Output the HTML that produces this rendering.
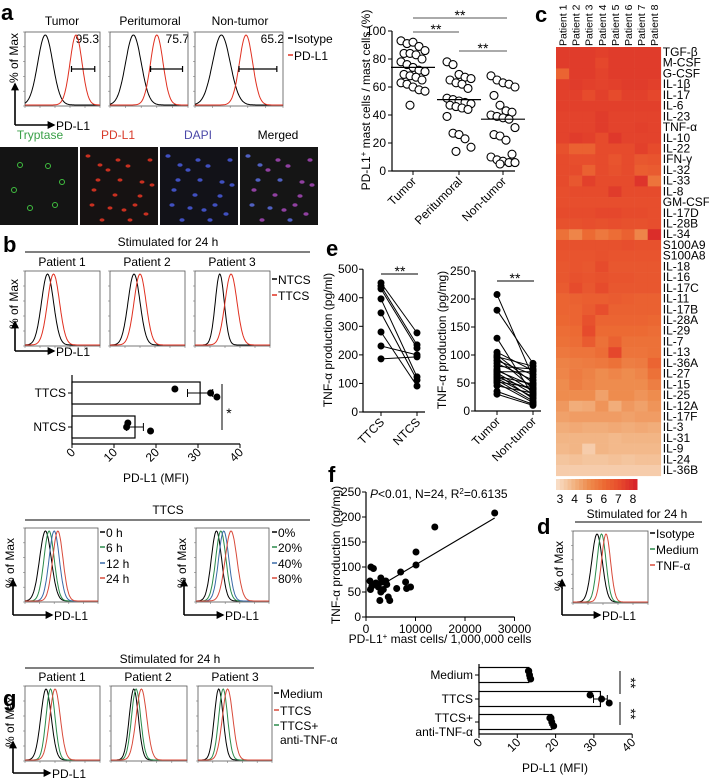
<!DOCTYPE html>
<html><head><meta charset="utf-8"><style>
html,body{margin:0;padding:0;background:#fff;}
svg{display:block;font-family:"Liberation Sans",Arial,sans-serif;}
</style></head><body>
<svg id="fig" width="709" height="781" viewBox="0 0 709 781" xmlns="http://www.w3.org/2000/svg" font-size="12">
<defs><marker id="ah" viewBox="0 0 10 10" refX="8" refY="5" markerWidth="5" markerHeight="5" orient="auto"><path d="M0,0L10,5L0,10z" fill="#000"/></marker></defs>
<text x="1" y="20" font-size="22" font-weight="bold">a</text>
<text x="3" y="252" font-size="22" font-weight="bold">b</text>
<text x="535" y="22" font-size="22" font-weight="bold">c</text>
<text x="537" y="534" font-size="22" font-weight="bold">d</text>
<text x="326" y="256" font-size="22" font-weight="bold">e</text>
<text x="328" y="482" font-size="22" font-weight="bold">f</text>
<text x="3" y="706" font-size="22" font-weight="bold">g</text>

<g>
<text x="62" y="25" text-anchor="middle">Tumor</text>
<text x="150" y="25" text-anchor="middle">Peritumoral</text>
<text x="240" y="25" text-anchor="middle">Non-tumor</text>
<text x="99" y="43" text-anchor="end">95.3</text>
<text x="189" y="43" text-anchor="end">75.7</text>
<text x="284" y="43" text-anchor="end">65.2</text>
<line x1="288" y1="38" x2="293" y2="38" stroke="#000" stroke-width="1.5"/>
<text x="294" y="43">Isotype</text>
<line x1="288" y1="55" x2="293" y2="55" stroke="#e03020" stroke-width="1.5"/>
<text x="294" y="60">PD-L1</text>
<text transform="translate(18,58) rotate(-90)" text-anchor="middle">% of Max</text>
<path d="M15,125V84" stroke="#000" stroke-width="1.6" marker-end="url(#ah)"/>
<path d="M15,125H54" stroke="#000" stroke-width="1.6" marker-end="url(#ah)"/>
<text x="56" y="130">PD-L1</text>
</g>
<g>
<text x="40" y="139" text-anchor="middle" fill="#3aa048">Tryptase</text>
<text x="118" y="139" text-anchor="middle" fill="#d83a2a">PD-L1</text>
<text x="198" y="139" text-anchor="middle" fill="#4a48a8">DAPI</text>
<text x="278" y="139" text-anchor="middle">Merged</text>
<rect x="0" y="147" width="78" height="78" fill="#141414"/>
<rect x="80" y="147" width="78" height="78" fill="#161212"/>
<rect x="160" y="147" width="78" height="78" fill="#121218"/>
<rect x="240" y="147" width="78" height="78" fill="#151515"/>
<g id="cells"></g>
</g>

<g id="scatA">
<text transform="translate(370,100) rotate(-90)" text-anchor="middle">PD-L1<tspan baseline-shift="super" font-size="8">+</tspan> mast cells / mast cells (%)</text>
<text x="460" y="20" text-anchor="middle" font-size="14">**</text>
<text x="436" y="34" text-anchor="middle" font-size="14">**</text>
<text x="483" y="53" text-anchor="middle" font-size="14">**</text>
<line x1="413" y1="18" x2="507" y2="18" stroke="#555"/>
<line x1="413" y1="32" x2="459" y2="32" stroke="#555"/>
<line x1="459" y1="51" x2="507" y2="51" stroke="#555"/>
</g>

<g id="heat"></g>

<g>
<text x="168" y="246" text-anchor="middle">Stimulated for 24 h</text>
<line x1="25" y1="252" x2="310" y2="252" stroke="#000"/>
<text x="62" y="266" text-anchor="middle">Patient 1</text>
<text x="147" y="266" text-anchor="middle">Patient 2</text>
<text x="232" y="266" text-anchor="middle">Patient 3</text>
<line x1="272" y1="279" x2="277" y2="279" stroke="#000" stroke-width="1.5"/>
<text x="278" y="284">NTCS</text>
<line x1="272" y1="295" x2="277" y2="295" stroke="#e03020" stroke-width="1.5"/>
<text x="278" y="300">TTCS</text>
<text transform="translate(18,304) rotate(-90)" text-anchor="middle">% of Max</text>
<path d="M15,351V322" stroke="#000" stroke-width="1.6" marker-end="url(#ah)"/>
<path d="M15,351H54" stroke="#000" stroke-width="1.6" marker-end="url(#ah)"/>
<text x="56" y="356">PD-L1</text>
</g>
<g id="barB">
<text x="156" y="482" text-anchor="middle">PD-L1 (MFI)</text>
<text x="229" y="418" text-anchor="middle" font-size="14">*</text>
<line x1="222" y1="384" x2="222" y2="430" stroke="#000"/>
</g>

<g>
<text x="168" y="514" text-anchor="middle">TTCS</text>
<line x1="25" y1="520" x2="310" y2="520" stroke="#000"/>
<text transform="translate(14,563) rotate(-90)" text-anchor="middle">% of Max</text>
<text transform="translate(186,563) rotate(-90)" text-anchor="middle">% of Max</text>
<path d="M13,615V580" stroke="#000" stroke-width="1.6" marker-end="url(#ah)"/>
<path d="M13,615H52" stroke="#000" stroke-width="1.6" marker-end="url(#ah)"/>
<text x="54" y="620">PD-L1</text>
<path d="M184,615V580" stroke="#000" stroke-width="1.6" marker-end="url(#ah)"/>
<path d="M184,615H223" stroke="#000" stroke-width="1.6" marker-end="url(#ah)"/>
<text x="225" y="620">PD-L1</text>
<g font-size="12">
<line x1="100" y1="532" x2="105" y2="532" stroke="#000" stroke-width="1.5"/><text x="106" y="537">0 h</text>
<line x1="100" y1="547" x2="105" y2="547" stroke="#2a8a4a" stroke-width="1.5"/><text x="106" y="552">6 h</text>
<line x1="100" y1="563" x2="105" y2="563" stroke="#3a6aa8" stroke-width="1.5"/><text x="106" y="568">12 h</text>
<line x1="100" y1="578" x2="105" y2="578" stroke="#d84a3a" stroke-width="1.5"/><text x="106" y="583">24 h</text>
<line x1="272" y1="532" x2="277" y2="532" stroke="#000" stroke-width="1.5"/><text x="278" y="537">0%</text>
<line x1="272" y1="547" x2="277" y2="547" stroke="#2a8a4a" stroke-width="1.5"/><text x="278" y="552">20%</text>
<line x1="272" y1="563" x2="277" y2="563" stroke="#3a6aa8" stroke-width="1.5"/><text x="278" y="568">40%</text>
<line x1="272" y1="578" x2="277" y2="578" stroke="#d84a3a" stroke-width="1.5"/><text x="278" y="583">80%</text>
</g>
</g>

<g id="panE">
<text transform="translate(332,340) rotate(-90)" text-anchor="middle">TNF-α  production (pg/ml)</text>
<text transform="translate(446,340) rotate(-90)" text-anchor="middle">TNF-α  production (pg/mg)</text>
<text x="400" y="276" text-anchor="middle" font-size="14">**</text>
<line x1="381" y1="274" x2="418" y2="274" stroke="#000"/>
<text x="515" y="283" text-anchor="middle" font-size="14">**</text>
<line x1="497" y1="281" x2="534" y2="281" stroke="#000"/>
</g>

<g id="panF">
<text transform="translate(340,555) rotate(-90)" text-anchor="middle">TNF-α  production (pg/mg)</text>
<text x="440" y="643" text-anchor="middle">PD-L1<tspan baseline-shift="super" font-size="8">+</tspan> mast cells/ 1,000,000 cells</text>
<text x="370" y="498"><tspan font-style="italic">P</tspan>&lt;0.01, N=24, R<tspan baseline-shift="super" font-size="8">2</tspan>=0.6135</text>
</g>

<g>
<text x="637" y="518" text-anchor="middle">Stimulated for 24 h</text>
<line x1="575" y1="522" x2="702" y2="522" stroke="#000"/>
<line x1="650" y1="533" x2="655" y2="533" stroke="#000" stroke-width="1.5"/><text x="656" y="538">Isotype</text>
<line x1="650" y1="549" x2="655" y2="549" stroke="#2a8a4a" stroke-width="1.5"/><text x="656" y="554">Medium</text>
<line x1="650" y1="565" x2="655" y2="565" stroke="#d84a3a" stroke-width="1.5"/><text x="656" y="570">TNF-α</text>
<text transform="translate(563,566) rotate(-90)" text-anchor="middle">% of Max</text>
<path d="M562,615V580" stroke="#000" stroke-width="1.6" marker-end="url(#ah)"/>
<path d="M562,615H600" stroke="#000" stroke-width="1.6" marker-end="url(#ah)"/>
<text x="602" y="620">PD-L1</text>
</g>

<g>
<text x="170" y="663" text-anchor="middle">Stimulated for 24 h</text>
<line x1="25" y1="668" x2="314" y2="668" stroke="#000"/>
<text x="62" y="681" text-anchor="middle">Patient 1</text>
<text x="148" y="681" text-anchor="middle">Patient 2</text>
<text x="235" y="681" text-anchor="middle">Patient 3</text>
<line x1="274" y1="693" x2="279" y2="693" stroke="#000" stroke-width="1.5"/><text x="280" y="698">Medium</text>
<line x1="274" y1="710" x2="279" y2="710" stroke="#d84a3a" stroke-width="1.5"/><text x="280" y="715">TTCS</text>
<line x1="274" y1="725" x2="279" y2="725" stroke="#2a8a4a" stroke-width="1.5"/><text x="280" y="730">TTCS+</text>
<text x="280" y="744">anti-TNF-α</text>
<text transform="translate(14,722) rotate(-90)" text-anchor="middle">% of Max</text>
<path d="M13,773V742" stroke="#000" stroke-width="1.6" marker-end="url(#ah)"/>
<path d="M13,773H50" stroke="#000" stroke-width="1.6" marker-end="url(#ah)"/>
<text x="52" y="778">PD-L1</text>
</g>
<g id="barG">
<text x="555" y="772" text-anchor="middle">PD-L1 (MFI)</text>
<line x1="620" y1="671" x2="620" y2="694" stroke="#000"/>
<line x1="620" y1="702" x2="620" y2="725" stroke="#000"/>
<text transform="translate(626,683) rotate(90)" text-anchor="middle" font-size="14">**</text>
<text transform="translate(626,714) rotate(90)" text-anchor="middle" font-size="14">**</text>
</g>
<g id="histos"></g>
</svg>
<script>
const aTumor = [93,91,92,89,86,84,84,83,80,78,76,74,72,71,69,68,67,65,63,62,60,58,57,47];
const aPeri = [78,76,69,67,66,65,63,62,59,52,51,50,49,48,47,46,45,44,39,27,26,23,17,14];
const aNon = [68,65,63,62,60,54,47,43,42,40,39,38,37,31,26,25,22,12,10,8,7,6,6,5];
const aMeans = [74,51,37];
const aCats = ['Tumor','Peritumoral','Non-tumor'];
const aTicks = [0,20,40,60,80,100];

const heatRows = ['TGF-β','M-CSF','G-CSF','IL-1β','IL-17','IL-6','IL-23','TNF-α','IL-10','IL-22','IFN-γ','IL-32','IL-33','IL-8','GM-CSF','IL-17D','IL-28B','IL-34','S100A9','S100A8','IL-18','IL-16','IL-17C','IL-11','IL-17B','IL-28A','IL-29','IL-7','IL-13','IL-36A','IL-27','IL-15','IL-25','IL-12A','IL-17F','IL-3','IL-31','IL-9','IL-24','IL-36B'];
const heatCols = ['Patient 1','Patient 2','Patient 3','Patient 4','Patient 5','Patient 6','Patient 7','Patient 8'];
const heatVals = [
[7.4,7.4,7.4,7.3,7.4,7.4,7.4,7.4],[7.4,7.4,7.4,7.1,7.4,7.4,7.4,7.4],[6.2,7.4,7.4,7.2,7.4,7.4,7.4,7.4],
[7.3,7.4,7.3,7.2,7.3,7.4,7.4,7.3],[7.3,7.3,7.0,7.3,7.0,7.3,7.3,7.1],[7.3,7.3,7.3,7.3,7.3,7.3,7.3,7.3],
[7.2,7.2,7.2,7.4,7.2,7.2,7.2,7.2],[7.2,7.2,7.2,7.4,7.2,7.2,7.3,7.2],[7.2,7.4,7.3,7.0,7.5,7.2,7.2,7.2],
[6.8,6.3,6.3,7.0,7.0,7.0,7.3,7.0],[7.0,6.9,6.9,7.0,6.7,7.0,6.6,6.7],[7.0,7.0,6.3,7.0,6.8,7.0,6.4,6.5],
[7.0,6.6,7.3,7.0,7.0,7.0,7.6,5.7],[6.9,7.0,7.0,7.0,7.4,7.0,7.0,7.0],[6.9,6.9,6.9,6.9,6.9,6.9,6.9,6.9],
[7.0,7.0,7.0,7.1,7.1,7.0,7.0,6.9],[6.8,6.8,6.9,6.8,6.9,6.8,6.8,6.9],[5.8,5.2,6.0,5.6,5.9,6.3,5.2,7.8],
[6.8,6.8,6.8,6.8,6.8,6.9,6.8,6.8],[6.7,6.7,6.7,6.8,6.7,6.7,6.7,6.7],[6.6,6.7,6.6,7.0,6.6,6.6,6.6,6.6],
[6.6,6.8,6.7,6.8,6.7,6.7,6.6,6.6],[6.5,7.0,6.6,7.0,6.6,6.6,6.6,6.6],[6.2,6.3,6.4,6.4,6.5,6.4,6.3,6.3],
[6.2,6.2,6.5,6.9,6.3,6.3,6.3,6.3],[6.1,6.2,6.8,6.2,6.2,6.2,6.2,6.1],[5.9,6.0,7.0,6.0,6.0,6.0,6.0,5.9],
[5.8,5.9,6.5,5.8,6.3,5.8,5.8,5.8],[5.6,5.7,5.7,5.9,7.1,5.7,5.7,5.8],[5.3,5.4,5.5,5.6,5.8,5.4,5.5,6.2],
[5.2,5.5,5.3,5.0,5.2,5.0,5.2,5.8],[5.0,5.4,5.2,5.0,5.0,5.0,5.0,5.4],[5.0,5.0,5.0,4.5,5.0,5.0,4.8,5.0],
[4.7,4.2,4.3,4.8,4.2,4.7,4.5,4.8],[4.5,4.6,4.6,4.6,4.6,4.5,4.6,4.6],[4.2,4.3,4.2,4.2,4.3,4.2,4.3,4.2],
[4.0,4.0,4.0,4.0,3.9,4.0,4.0,4.0],[3.9,4.0,3.4,4.0,3.9,3.9,3.9,3.9],[3.6,3.7,3.6,3.6,3.7,3.6,3.7,3.7],
[3.4,3.4,3.4,3.4,3.4,3.4,3.4,3.4]];
const heatScaleTicks = [3,4,5,6,7,8];

const bCats = ['TTCS','NTCS'];
const bMeans = [30.5,15];
const bErr = [3,2];
const bDots = [[24.5,33,34.5],[13.3,13,18.7]];
const mfiTicks = [0,10,20,30,40];

const eCats1 = ['TTCS','NTCS'];
const eTTCS = [452,441,431,396,347,280,231,186];
const eNTCS = [277,235,224,123,112,91,200,193];
const eTicks1 = [0,100,200,300,400,500];
const eCats2 = ['Tumor','Non-tumor'];
const eTumor = [208,180,130,105,100,97,95,90,85,80,75,72,70,68,65,62,60,58,55,52,50,45,35,30];
const eNonTumor = [60,85,28,72,50,80,40,65,55,75,35,45,70,30,22,48,38,25,18,42,15,32,12,10];
const eTicks2 = [0,50,100,150,200,250];

const fX = [1000,1500,800,1200,900,2000,2500,3000,3200,3000,2800,3500,4000,4500,4800,4200,6200,7000,8000,8200,9000,10100,10100,13900,26000];
const fY = [100,97,72,62,55,68,60,78,70,50,33,55,72,40,33,65,57,90,70,57,60,104,130,180,208];
const fFit = {slope:0.005856, intercept:45.7, xStart:3800, xEnd:26000};
const fXTicks = [0,10000,20000,30000];
const fYTicks = [0,50,100,150,200,250];

const gCats = ['Medium','TTCS','TTCS+'];
const gMeans = [13,31.7,19];
const gErr = [0.4,1.8,0.5];
const gDots = [[13,13.2,13.5,12.9],[29,32,34],[18.5,19,19.5,18.8]];

const histA = [[[.27,.10,'#000'],[.68,.08,'#e03020']],[[.30,.10,'#000'],[.60,.08,'#e03020']],[[.30,.10,'#000'],[.58,.075,'#e03020']]];
const histB = [[[.30,.08,'#000'],[.38,.08,'#e03020']],[[.32,.08,'#000'],[.40,.08,'#e03020']],[[.33,.06,'#000'],[.48,.08,'#e03020']]];
const histT = [[[.28,.08,'#000'],[.33,.07,'#2a8a4a'],[.40,.07,'#3a6aa8'],[.45,.07,'#d84a3a']],[[.28,.07,'#000'],[.34,.07,'#2a8a4a'],[.38,.07,'#3a6aa8'],[.48,.08,'#d84a3a']]];
const histD = [[[.32,.07,'#000'],[.38,.06,'#2a8a4a'],[.44,.06,'#d84a3a']]];
const histG = [[[.28,.07,'#000'],[.34,.06,'#2a8a4a'],[.40,.07,'#d84a3a']],[[.30,.06,'#000'],[.33,.06,'#2a8a4a'],[.40,.07,'#d84a3a']],[[.28,.06,'#000'],[.34,.06,'#2a8a4a'],[.40,.07,'#d84a3a']]];

const NS='http://www.w3.org/2000/svg';
function mk(tag, attrs, parent){const e=document.createElementNS(NS,tag);for(const k in attrs)e.setAttribute(k,attrs[k]);parent.appendChild(e);return e;}
function txt(str, attrs, parent){const e=mk('text',attrs,parent);e.textContent=str;return e;}

const H=document.getElementById('histos');
function histo(x0,y0,w,h,curves,name){
  const box=mk('rect',{x:x0,y:y0,width:w,height:h,fill:'none',stroke:'#555','stroke-width':0.8},H);
  
  
  for(let i=0;i<=5;i++){
    const t=mk('line',{x1:x0+w*i/5,y1:y0+h,x2:x0+w*i/5,y2:y0+h+2,stroke:'#777','stroke-width':0.6},H);
    
    
    const t2=mk('line',{x1:x0-2,y1:y0+h*i/5,x2:x0,y2:y0+h*i/5,stroke:'#777','stroke-width':0.6},H);
    
    
  }
  curves.forEach(c=>{
    let d='';
    for(let i=0;i<=100;i++){const t=i/100;const v=Math.exp(-Math.pow((t-c[0])/c[1],2)/2);
      d+=(i?'L':'M')+(x0+t*w).toFixed(1)+','+(y0+h-1-(h-4)*v).toFixed(1);}
    const p=mk('path',{d:d,fill:'none',stroke:c[2],'stroke-width':1},H);
    
    
  });
}
[[25,32,75,74],[110,32,78,74],[195,32,88,74]].forEach((b,i)=>histo(b[0],b[1],b[2],b[3],histA[i],'hist-a'+i));
[[25,75],[110,78],[195,88]].forEach((b,i)=>{
  const st=[.62,.52,.50][i];
  const g=mk('path',{d:`M${b[0]+b[1]*st},66v6M${b[0]+b[1]*st},69H${b[0]+b[1]*.93}M${b[0]+b[1]*.93},66v6`,stroke:'#000','stroke-width':1.2,fill:'none'},H);
  
  
});
[[25,271],[110,271],[195,271]].forEach((b,i)=>histo(b[0],b[1],75,75,histB[i],'hist-b'+i));
[[25,528],[196,528]].forEach((b,i)=>histo(b[0],b[1],73,74,histT[i],'hist-ttcs'+i));
histo(573,531,75,72,histD[0],'hist-d');
[[25,686,75],[111,686,76],[198,686,74]].forEach((b,i)=>histo(b[0],b[1],b[2],75,histG[i],'hist-g'+i));

const C=document.getElementById('cells');
const cellSpots=[[20,165],[48,166],[62,182],[30,208],[55,205],[14,190],[40,180],[22,220],[66,214],[8,156],[35,195],[70,160],[50,220],[28,170],[60,196],[12,205],[44,210],[72,185],[18,180],[38,160]];
cellSpots.forEach((p,i)=>{
  if(i<6){const c=mk('circle',{cx:p[0],cy:p[1],r:2.5,fill:'none',stroke:'#40c040','stroke-width':1},C);
    
    }
  const r=mk('ellipse',{cx:80+p[0],cy:p[1],rx:2.5,ry:1.6,fill:'#c83020'},C);
  
  
  const b=mk('ellipse',{cx:160+p[0],cy:p[1],rx:2.6,ry:1.8,fill:'#4050c0'},C);
  
  
  const m=mk('ellipse',{cx:240+p[0],cy:p[1],rx:2.6,ry:1.8,fill:i%3?'#9040a0':'#5060c0'},C);
  
  
});

const SA=document.getElementById('scatA');
const ayA=v=>171-1.4*v; const axA=[413,459,503];
const ax1=mk('path',{d:'M392,31V171H515',fill:'none',stroke:'#000','stroke-width':1.2},SA);


aTicks.forEach(t=>{
  const l=mk('line',{x1:388,y1:ayA(t),x2:392,y2:ayA(t),stroke:'#000'},SA);
  
  
  const tl=txt(String(t),{x:386,y:ayA(t)+4,'text-anchor':'end'},SA);
  
  
});
aCats.forEach((c,i)=>{
  const l=mk('line',{x1:axA[i],y1:171,x2:axA[i],y2:175,stroke:'#000'},SA);
  
  
  const tl=txt(c,{transform:`translate(${axA[i]+4},182) rotate(-45)`,'text-anchor':'end'},SA);
  
  
});
const jit=[-12,-6,0,6,12,-9,-3,3,9,-12,-6,0,6,12,-9,-3,3,9,-12,-6,0,6,12,-3];
[aTumor,aPeri,aNon].forEach((arr,g)=>{
  arr.forEach((v,i)=>{
    const c=mk('circle',{cx:axA[g]+jit[i],cy:ayA(v),r:4,fill:'#fff',stroke:'#000','stroke-width':1.1},SA);
    
    
  });
  const m=mk('line',{x1:axA[g]-22,y1:ayA(aMeans[g]),x2:axA[g]+22,y2:ayA(aMeans[g]),stroke:'#000','stroke-width':1.2},SA);
  
  
});

const HM=document.getElementById('heat');
const hx0=556,hy0=47,cw=13.1,rh=10.72;
const cStops=[[3,[248,220,196]],[4,[242,181,133]],[5,[238,140,78]],[6,[236,106,51]],[7,[230,75,44]],[8,[216,37,42]]];
function hcol(v){v=Math.max(3,Math.min(8,v));for(let i=0;i<cStops.length-1;i++){const a=cStops[i],b=cStops[i+1];if(v<=b[0]){const t=(v-a[0])/(b[0]-a[0]);return 'rgb('+a[1].map((x,k)=>Math.round(x+(b[1][k]-x)*t)).join(',')+')';}}return 'rgb(216,37,42)';}
heatVals.forEach((row,r)=>{
  row.forEach((v,c)=>{
    const e=mk('rect',{x:hx0+c*cw,y:hy0+r*rh,width:cw+0.3,height:rh+0.3,fill:hcol(v)},HM);
    
    
  });
  const t=txt(heatRows[r],{x:hx0+8*cw+2,y:hy0+r*rh+9,'font-size':12},HM);
  
  
});
heatCols.forEach((c,i)=>{
  const t=txt(c,{transform:`translate(${hx0+i*cw+10.5},46) rotate(-90)`,'font-size':10.5},HM);
  
  
});
for(let i=0;i<=20;i++){
  const v=3+5*i/20;
  const e=mk('rect',{x:556+i*81/21,y:479,width:81/21+0.5,height:11,fill:hcol(v)},HM);
  
  
}
heatScaleTicks.forEach((t,i)=>{
  const e=txt(String(t),{x:560+i*14.6,y:503,'text-anchor':'middle'},HM);
  
  
});

function hbar(G,x0,scale,yTop,yBot,centers,hh,cats,means,err,dots,labelFn,nm){
  const ax=mk('path',{d:`M${x0},${yTop}V${yBot}H${x0+40*scale}`,fill:'none',stroke:'#000','stroke-width':1.2},G);
  
  
  mfiTicks.forEach(t=>{
    const x=x0+t*scale;
    const l=mk('line',{x1:x,y1:yBot,x2:x,y2:yBot+4,stroke:'#000'},G);
    
    
    const tl=txt(String(t),{transform:`translate(${x+4},${yBot+9}) rotate(-45)`,'text-anchor':'end'},G);
    
    
  });
  cats.forEach((c,i)=>{
    const y=centers[i];
    const b=mk('rect',{x:x0,y:y-hh/2,width:means[i]*scale,height:hh,fill:'#fff',stroke:'#000','stroke-width':1.2},G);
    
    
    const e=mk('path',{d:`M${x0+(means[i]-err[i])*scale},${y}H${x0+(means[i]+err[i])*scale}M${x0+(means[i]-err[i])*scale},${y-4}v8M${x0+(means[i]+err[i])*scale},${y-4}v8`,stroke:'#000',fill:'none'},G);
    
    
    const l=mk('line',{x1:x0-4,y1:y,x2:x0,y2:y,stroke:'#000'},G);
    
    
    dots[i].forEach((v,k)=>{
      const d=mk('circle',{cx:x0+v*scale,cy:y+(k%3-1)*4,r:3.5,fill:'#000'},G);
      
      
    });
    labelFn(c,y);
  });
}
const BB=document.getElementById('barB');
hbar(BB,72,4.2,375,444,[393,427],22,bCats,bMeans,bErr,bDots,(c,y)=>{
  const t=txt(c,{x:66,y:y+4,'text-anchor':'end'},BB);
  
  
},'bar-b');
const BG=document.getElementById('barG');
hbar(BG,479,3.83,664,734,[675,699,722],15,gCats,gMeans,gErr,gDots,(c,y)=>{
  if(c==='TTCS+'){
    const t1=txt('TTCS+',{x:473,y:y,'text-anchor':'end'},BG);
    
    
    const t2=txt('anti-TNF-α',{x:473,y:y+14,'text-anchor':'end'},BG);
    
    
  } else {
    const t=txt(c,{x:473,y:y+4,'text-anchor':'end'},BG);
    
    
  }
},'bar-g');

const PE=document.getElementById('panE');
function paired(ax,y0,ppu,xs,xEnd,ticks,cats,s1,s2,nm){
  const yy=v=>y0-v*ppu;
  const a=mk('path',{d:`M${ax},${yy(ticks[ticks.length-1])}V${y0}H${xEnd}`,fill:'none',stroke:'#000','stroke-width':1.2},PE);
  
  
  ticks.forEach(t=>{
    const l=mk('line',{x1:ax-4,y1:yy(t),x2:ax,y2:yy(t),stroke:'#000'},PE);
    
    
    const tl=txt(String(t),{x:ax-5,y:yy(t)+4,'text-anchor':'end'},PE);
    
    
  });
  cats.forEach((c,i)=>{
    const l=mk('line',{x1:xs[i],y1:y0,x2:xs[i],y2:y0+4,stroke:'#000'},PE);
    
    
    const tl=txt(c,{transform:`translate(${xs[i]+4},${y0+11}) rotate(-45)`,'text-anchor':'end'},PE);
    
    
  });
  s1.forEach((v,i)=>{
    const l=mk('line',{x1:xs[0],y1:yy(v),x2:xs[1],y2:yy(s2[i]),stroke:'#000','stroke-width':1},PE);
    
    
  });
  [s1,s2].forEach((s,g)=>s.forEach(v=>{
    const c=mk('circle',{cx:xs[g],cy:yy(v),r:3.5,fill:'#000'},PE);
    
    
  }));
}
paired(363,412,0.2856,[381,417],425,eTicks1,eCats1,eTTCS,eNTCS,'e-left');
paired(475,411,0.56,[497,533],541,eTicks2,eCats2,eTumor,eNonTumor,'e-right');

const PF=document.getElementById('panF');
const fx=v=>366+v*49.5/10000, fy=v=>617-v*0.5;
const fa=mk('path',{d:`M366,${fy(250)}V617H${fx(30000)}`,fill:'none',stroke:'#000','stroke-width':1.2},PF);


fYTicks.forEach(t=>{
  const l=mk('line',{x1:362,y1:fy(t),x2:366,y2:fy(t),stroke:'#000'},PF);
  
  
  const tl=txt(String(t),{x:361,y:fy(t)+4,'text-anchor':'end'},PF);
  
  
});
fXTicks.forEach(t=>{
  const l=mk('line',{x1:fx(t),y1:617,x2:fx(t),y2:621,stroke:'#000'},PF);
  
  
  const tl=txt(String(t),{x:fx(t),y:633,'text-anchor':'middle'},PF);
  
  
});
const fl=mk('line',{x1:fx(fFit.xStart),y1:fy(fFit.intercept+fFit.slope*fFit.xStart),x2:fx(fFit.xEnd),y2:fy(fFit.intercept+fFit.slope*fFit.xEnd),stroke:'#000','stroke-width':1.1},PF);


fX.forEach((v,i)=>{
  const c=mk('circle',{cx:fx(v),cy:fy(fY[i]),r:3.5,fill:'#000'},PF);
  
  
});
</script>
</body></html>
